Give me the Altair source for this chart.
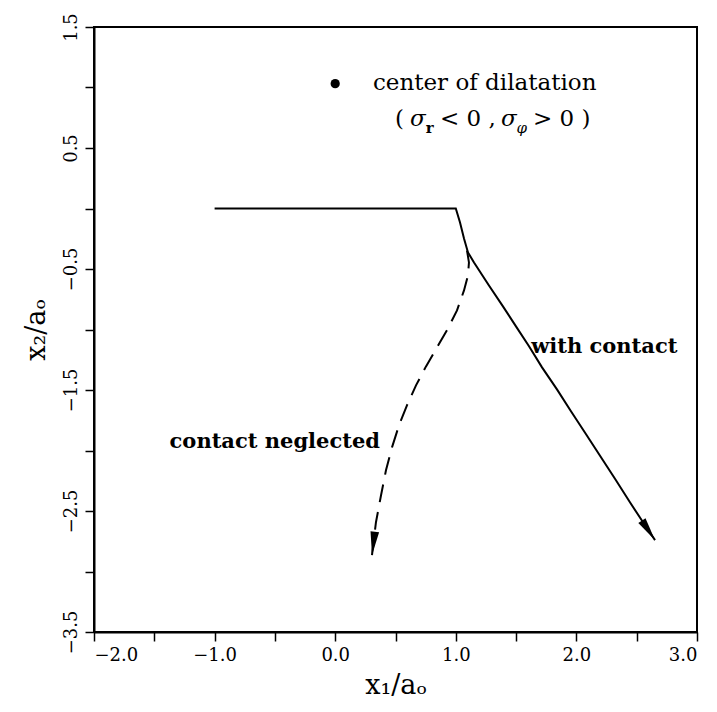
import altair as alt
import pandas as pd
import numpy as np

# ---- data ----
contact_x = [-1.0, 1.0, 1.035, 1.068, 1.101, 1.151, 1.275, 1.391, 1.499, 1.607, 1.715, 1.839, 1.955, 2.080, 2.204, 2.328, 2.444, 2.569, 2.652]
contact_y = [0.0, 0.0, -0.116, -0.248, -0.363, -0.446, -0.636, -0.809, -0.974, -1.139, -1.313, -1.495, -1.676, -1.866, -2.056, -2.246, -2.428, -2.618, -2.741]

neglect_x = [1.093, 1.109, 1.101, 1.068, 1.010, 0.935, 0.844, 0.753, 0.670, 0.595, 0.529, 0.471, 0.421, 0.380, 0.338, 0.305]
neglect_y = [-0.347, -0.446, -0.553, -0.677, -0.842, -0.991, -1.148, -1.305, -1.462, -1.627, -1.792, -1.974, -2.164, -2.370, -2.593, -2.865]

x_ticks = [-2.0, -1.5, -1.0, -0.5, 0.0, 0.5, 1.0, 1.5, 2.0, 2.5, 3.0]
y_ticks = [-3.5, -3.0, -2.5, -2.0, -1.5, -1.0, -0.5, 0.0, 0.5, 1.0, 1.5]

# legend: dot + "center of dilatation" + "( σr < 0 , σφ > 0 )"
legend_dot_x = [0.0]
legend_dot_y = [1.032]
legend1_text = ["center of dilatation"]
legend1_x = [0.313]
legend1_y = [0.983]
legend2_plain = ["(", "< 0 ,", "> 0 )"]
legend2_plain_x = [0.496, 0.869, 1.640]
legend2_sigma = ["σ", "σ"]
legend2_sigma_x = [0.620, 1.375]
legend2_y = 0.685
sub_r_x, sub_phi_x, sub_y = 0.750, 1.503, 0.628

# curve labels
with_text, with_x, with_y = "with contact", 1.625, -1.197
negl_text, negl_x, negl_y = "contact neglected", 0.371, -1.982

W, H = 603, 605
XDOM = [-2.0, 3.0]
YDOM = [-3.5, 1.5]
FONT = "DejaVu Serif"

df_c = pd.DataFrame({"x": contact_x, "y": contact_y, "o": range(len(contact_x))})
df_n = pd.DataFrame({"x": neglect_x, "y": neglect_y, "o": range(len(neglect_x))})


def head_angle(xs, ys):
    dx = (xs[-1] - xs[-2]) * W / (XDOM[1] - XDOM[0])
    dy = -(ys[-1] - ys[-2]) * H / (YDOM[1] - YDOM[0])
    return float(np.degrees(np.arctan2(-dx, dy)) % 360)


df_heads = pd.DataFrame({
    "x": [contact_x[-1], neglect_x[-1]],
    "y": [contact_y[-1], neglect_y[-1]],
    "a": [head_angle(contact_x, contact_y), head_angle(neglect_x, neglect_y)],
})

xs = alt.Scale(domain=XDOM, nice=False, zero=False)
ys = alt.Scale(domain=YDOM, nice=False, zero=False)

xaxis = alt.Axis(values=x_ticks, title="x₁/aₒ",
                 labelExpr="datum.value % 1 == 0 ? format(datum.value, '.1f') : ''",
                 titleFontSize=27, titlePadding=8, titleFont=FONT, titleFontWeight="normal")
yaxis = alt.Axis(values=y_ticks, title="x₂/aₒ",
                 labelExpr="abs(datum.value) % 1 == 0.5 ? format(datum.value, '.1f') : ''",
                 labelAngle=270, labelAlign="center", labelBaseline="bottom",
                 titleFontSize=27, titlePadding=12, titleFont=FONT, titleFontWeight="normal")

X = alt.X("x:Q", scale=xs, axis=xaxis)
Y = alt.Y("y:Q", scale=ys, axis=yaxis)
Xp = alt.X("x:Q", scale=xs)
Yp = alt.Y("y:Q", scale=ys)


def txt(texts, xs_, ys_, size, weight="normal", style="normal", align="left"):
    d = pd.DataFrame({"t": texts, "x": xs_, "y": ys_})
    return alt.Chart(d).mark_text(
        font=FONT, fontSize=size, fontWeight=weight, fontStyle=style, align=align,
        baseline="alphabetic", color="black"
    ).encode(x=Xp, y=Yp, text="t:N")


solid = alt.Chart(df_c).mark_line(color="black", strokeWidth=2).encode(x=X, y=Y, order="o:Q")
dashed = alt.Chart(df_n).mark_line(color="black", strokeWidth=2, strokeDash=[18, 10]).encode(
    x=Xp, y=Yp, order="o:Q")
heads = alt.Chart(df_heads).mark_point(
    shape="M0,0 L-0.36,-1.95 L0.36,-1.95 Z", filled=True, color="black", opacity=1, size=580
).encode(x=Xp, y=Yp, angle=alt.Angle("a:Q", scale=None))
dot = alt.Chart(pd.DataFrame({"x": legend_dot_x, "y": legend_dot_y})).mark_point(
    shape="circle", filled=True, color="black", opacity=1, size=85
).encode(x=Xp, y=Yp)

layers = [
    solid, dashed, heads, dot,
    txt(legend1_text, legend1_x, legend1_y, 23),
    txt(legend2_plain, legend2_plain_x, [legend2_y] * len(legend2_plain), 23),
    txt(legend2_sigma, legend2_sigma_x, [legend2_y] * len(legend2_sigma), 23, style="italic"),
    txt(["r"], [sub_r_x], [sub_y], 15, weight="bold"),
    txt(["φ"], [sub_phi_x], [sub_y], 15, style="italic"),
    txt([with_text], [with_x], [with_y], 21, weight="bold"),
    txt([negl_text], [negl_x], [negl_y], 21, weight="bold", align="right"),
]

chart = alt.layer(*layers).properties(
    width=W, height=H,
    autosize=alt.AutoSizeParams(type="none"),
    padding={"left": 94, "top": 27, "right": 20, "bottom": 80},
    background="white",
).configure_view(stroke="black", strokeWidth=2).configure_axis(
    grid=False, domainColor="black", domainWidth=2, tickColor="black", tickWidth=1.5,
    tickSize=9, labelFont=FONT, labelFontSize=18, labelColor="black", labelPadding=5,
    titleColor="black",
)

chart.save("out.html", embed_options={"renderer": "svg", "actions": False})
